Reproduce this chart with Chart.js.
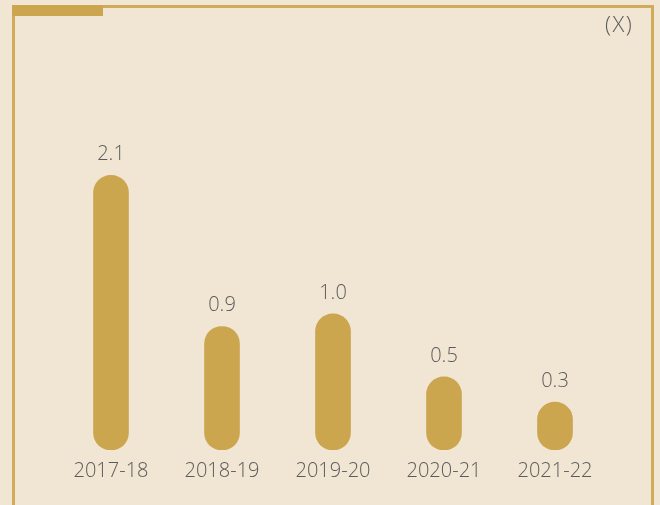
<!DOCTYPE html>
<html><head><meta charset="utf-8">
<script src="https://cdn.jsdelivr.net/npm/chart.js@4/dist/chart.umd.min.js"></script>
<style>
html,body{margin:0;padding:0;background:#f1e6d3;}
#wrap{position:relative;width:660px;height:505px;}
canvas{display:block;}
</style></head>
<body><div id="wrap"><canvas id="c" width="660" height="505"></canvas></div>
<script>
const categories = ["2017-18","2018-19","2019-20","2020-21","2021-22"];
const values = [2.1, 0.9, 1.0, 0.5, 0.3];
const unitLabel = "(X)";

const BG = "#f1e6d3", GOLD = "#cca54f", TEXT = "#5b5b5b";
const FONT = "'Open Sans', sans-serif";

const deco = {
  id: 'deco',
  beforeDraw(chart) {
    const ctx = chart.ctx;
    ctx.save();
    ctx.fillStyle = BG;
    ctx.fillRect(0, 0, chart.width, chart.height);
    ctx.fillStyle = "#d1ab58";
    ctx.fillRect(12, 5, 3, 500);      // left line
    ctx.fillRect(12, 5, 642, 3);      // top line
    ctx.fillRect(651, 5, 3, 500);     // right line
    ctx.fillStyle = GOLD;
    ctx.fillRect(12, 5, 91, 11);      // thick tab
    ctx.restore();
  },
  afterDatasetsDraw(chart) {
    const ctx = chart.ctx;
    const meta = chart.getDatasetMeta(0);
    const xs = chart.scales.x;
    ctx.save();
    ctx.fillStyle = TEXT;
    ctx.textAlign = 'center';
    ctx.textBaseline = 'middle';
    ctx.font = "300 20px " + FONT;
    meta.data.forEach((bar, i) => {
      ctx.fillText(values[i].toFixed(1), bar.x, bar.y - 21);
    });
    categories.forEach((c, i) => {
      ctx.fillText(c, xs.getPixelForValue(i), 471);
    });
    ctx.font = "300 22px " + FONT;
    ctx.letterSpacing = "1.5px";
    ctx.textAlign = 'left';
    ctx.fillText(unitLabel, 605, 26);
    ctx.restore();
  }
};

new Chart(document.getElementById('c'), {
  type: 'bar',
  data: {
    labels: categories,
    datasets: [{
      data: values,
      base: -0.08,
      backgroundColor: GOLD,
      borderWidth: 0,
      borderRadius: 18,
      borderSkipped: false,
      barThickness: 35
    }]
  },
  options: {
    responsive: false,
    animation: false,
    devicePixelRatio: 1,
    layout: { padding: { left: 55.5, right: 49.5, top: 112.4, bottom: 55 } },
    plugins: { legend: { display: false }, tooltip: { enabled: false } },
    scales: {
      x: { display: false, offset: true },
      y: { display: false, min: -0.08, max: 2.6 }
    }
  },
  plugins: [deco]
});
</script></body></html>
